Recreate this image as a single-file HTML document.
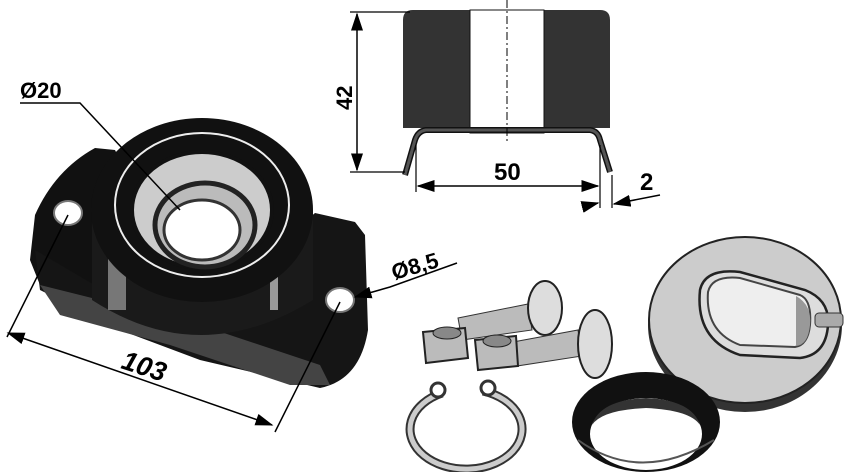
<!DOCTYPE html>
<html><head><style>body{margin:0;background:#fff}svg{display:block}text{font-family:"Liberation Sans",sans-serif;font-weight:bold;font-size:22px}</style></head>
<body>
<svg width="850" height="472" viewBox="0 0 850 472">
<defs><marker id="a" markerWidth="12" markerHeight="8" refX="11" refY="4" orient="auto-start-reverse"><path d="M0,0 L12,4 L0,8z" fill="#000"/></marker></defs>
<!-- Flange bearing -->
<path d="M95,148 L115,150 L120,160 L100,230 L105,300 L40,285 L30,260 L35,215 Q55,170 95,148z" fill="#111"/>
<path d="M315,213 L355,222 L365,235 L368,330 Q360,380 320,388 L200,360 L120,330 L40,290 L35,250 L120,300 L200,310 Z" fill="#151515"/>
<path d="M40,285 L120,305 L200,325 L320,365 L330,385 L290,385 L170,345 L60,315 Z" fill="#444"/>
<path d="M92,210 L92,300 Q200,370 313,300 L313,210 Z" fill="#1a1a1a"/>
<rect x="108" y="230" width="18" height="80" fill="#777"/>
<rect x="270" y="240" width="8" height="70" fill="#999"/>
<ellipse cx="202" cy="210" rx="111" ry="92" fill="#111"/>
<ellipse cx="202" cy="205" rx="87" ry="72" fill="none" stroke="#eee" stroke-width="2"/>
<ellipse cx="202" cy="210" rx="70" ry="58" fill="#ccc" stroke="#111" stroke-width="4"/>
<ellipse cx="205" cy="225" rx="50" ry="42" fill="#bbb" stroke="#222" stroke-width="5"/>
<ellipse cx="202" cy="230" rx="38" ry="30" fill="#fff" stroke="#333" stroke-width="3"/>
<ellipse cx="68" cy="213" rx="14" ry="12" fill="#fff" stroke="#777" stroke-width="2"/>
<ellipse cx="340" cy="300" rx="14" ry="12" fill="#fff" stroke="#777" stroke-width="2"/>
<!-- Ø20 -->
<text x="20" y="98">Ø20</text>
<path d="M20,103 L80,103 L180,210" stroke="#000" stroke-width="1.5" fill="none"/>
<!-- Ø8,5 -->
<text x="394" y="280" transform="rotate(-16 394 280)">Ø8,5</text>
<path d="M457,263 L390,287 L355,297" stroke="#000" stroke-width="1.5" fill="none" marker-end="url(#a)"/>
<!-- 103 -->
<path d="M7,337 L68,215 M275,432 L340,302" stroke="#000" stroke-width="1.5"/>
<path d="M8,333 L272,425" stroke="#000" stroke-width="1.5" marker-start="url(#a)" marker-end="url(#a)"/>
<text x="120" y="368" transform="rotate(18 120 368)" font-style="italic" style="font-size:27px">103</text>
<!-- Section view -->
<path d="M403,20 Q403,10 413,10 L600,10 Q610,10 610,20 L610,128 L403,128 Z" fill="#333"/>
<rect x="470" y="10" width="74" height="123" fill="#fff" stroke="#111" stroke-width="1"/>
<path d="M405,175 L415,140 Q418,131 426,130 L590,130 Q598,131 600,140 L610,172" fill="none" stroke="#111" stroke-width="6"/>
<path d="M405,175 L415,140 Q418,131 426,130 L590,130 Q598,131 600,140 L610,172" fill="none" stroke="#555" stroke-width="3"/>
<path d="M507,0 V142" stroke="#000" stroke-width="1" stroke-dasharray="8,3,2,3"/>
<path d="M350,12 L410,12 M350,172 L405,172" stroke="#000" stroke-width="1.2"/>
<path d="M357,14 L357,170" stroke="#000" stroke-width="1.5" marker-start="url(#a)" marker-end="url(#a)"/>
<text x="352" y="110" transform="rotate(-90 352 110)">42</text>
<path d="M416,145 V192 M600,145 V208 M612,175 V208" stroke="#000" stroke-width="1.2"/>
<path d="M418,186 L598,186" stroke="#000" stroke-width="1.5" marker-start="url(#a)" marker-end="url(#a)"/>
<text x="494" y="180" style="font-size:24px">50</text>
<path d="M582,207 L598,203" stroke="#000" stroke-width="1.5" marker-end="url(#a)"/>
<path d="M660,195 L614,204" stroke="#000" stroke-width="1.5" marker-end="url(#a)"/>
<text x="640" y="190" style="font-size:24px">2</text>
<!-- cover disc -->
<ellipse cx="745" cy="325" rx="97" ry="87" fill="#333"/>
<ellipse cx="745" cy="320" rx="96" ry="83" fill="#ccc" stroke="#222" stroke-width="2"/>
<path d="M700,290 Q705,268 740,272 L805,290 Q830,300 828,325 Q826,355 800,358 L740,355 Q695,340 700,290Z" fill="#ddd" stroke="#222" stroke-width="2.5"/>
<path d="M708,292 Q712,275 740,278 L800,295 Q812,300 810,325 Q808,345 795,347 L740,345 Q705,332 708,292Z" fill="#eee" stroke="#444" stroke-width="2"/>
<path d="M796,296 Q812,305 810,325 Q808,345 796,346Z" fill="#999"/>
<rect x="815" y="313" width="28" height="14" rx="4" fill="#aaa" stroke="#333"/>
<!-- bolts -->
<path d="M458,318 L528,304 L532,330 L462,340Z" fill="#bbb" stroke="#333"/>
<ellipse cx="545" cy="308" rx="17" ry="27" fill="#ddd" stroke="#222" stroke-width="2"/>
<path d="M513,342 L578,330 L582,356 L517,366Z" fill="#bbb" stroke="#333"/>
<ellipse cx="595" cy="344" rx="17" ry="34" fill="#ddd" stroke="#222" stroke-width="2"/>
<path d="M423,332 L465,328 L468,358 L426,363Z" fill="#bbb" stroke="#222" stroke-width="2"/>
<ellipse cx="447" cy="333" rx="14" ry="6" fill="#888" stroke="#222"/>
<path d="M475,340 L516,336 L518,366 L478,370Z" fill="#bbb" stroke="#222" stroke-width="2"/>
<ellipse cx="497" cy="341" rx="14" ry="6" fill="#888" stroke="#222"/>
<!-- circlip -->
<path d="M442,393 A56,40 0 1 0 483,391" fill="none" stroke="#333" stroke-width="9"/>
<path d="M442,393 A56,40 0 1 0 483,391" fill="none" stroke="#ccc" stroke-width="5"/>
<circle cx="438" cy="390" r="7" fill="#fff" stroke="#333" stroke-width="3"/>
<circle cx="488" cy="388" r="7" fill="#fff" stroke="#333" stroke-width="3"/>
<!-- seal ring -->
<ellipse cx="646" cy="422" rx="74" ry="50" fill="#111"/>
<ellipse cx="646" cy="434" rx="56" ry="36" fill="#fff"/>
<path d="M592,425 Q600,400 646,398 Q692,400 700,425 Q690,410 646,408 Q602,410 592,425Z" fill="#333"/>
<path d="M578,440 Q640,485 714,440" fill="none" stroke="#555" stroke-width="2"/>
</svg>
</body></html>
